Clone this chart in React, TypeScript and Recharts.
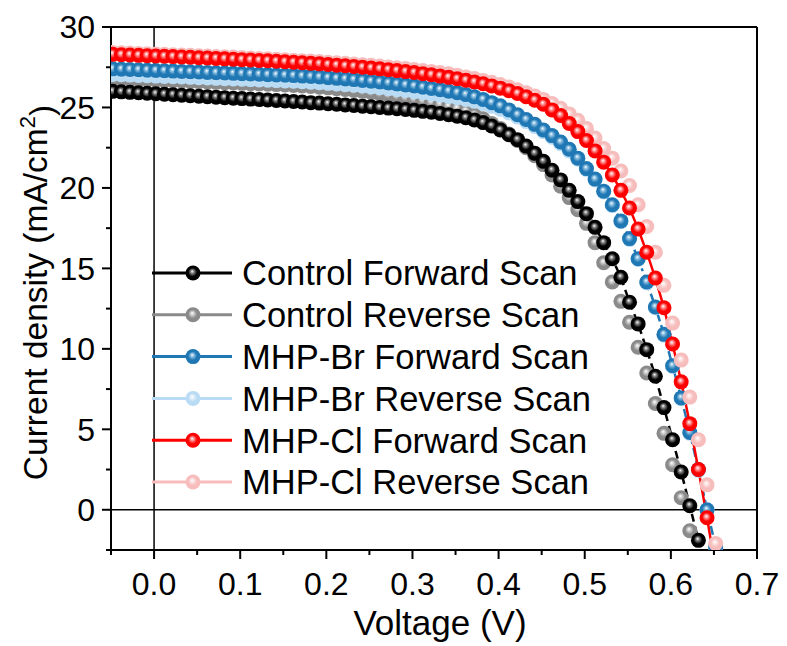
import React from 'react'
import { ComposedChart, Line, XAxis, YAxis, ReferenceLine, Legend, Label } from 'recharts'

// voltage sweep points (V)
const VOLTAGE = [
  -0.048, -0.038, -0.028, -0.018, -0.008, 0.002, 0.012, 0.022, 0.032, 0.042,
  0.052, 0.062, 0.072, 0.082, 0.092, 0.102, 0.112, 0.122, 0.132, 0.142,
  0.152, 0.162, 0.172, 0.182, 0.192, 0.202, 0.212, 0.222, 0.232, 0.242,
  0.252, 0.262, 0.272, 0.282, 0.292, 0.302, 0.312, 0.322, 0.332, 0.342,
  0.352, 0.362, 0.372, 0.382, 0.392, 0.402, 0.412, 0.422, 0.432, 0.442,
  0.452, 0.462, 0.472, 0.482, 0.492, 0.502, 0.512, 0.522, 0.532, 0.542,
  0.552, 0.562, 0.572, 0.582, 0.592, 0.602, 0.612, 0.622, 0.632, 0.642,
  0.652,
]

// current density (mA/cm2), one value per voltage point
const CONTROL_FWD = [
  26.0, 25.97, 25.94, 25.91, 25.88, 25.85, 25.82, 25.79, 25.76, 25.73,
  25.7, 25.67, 25.64, 25.61, 25.58, 25.55, 25.52, 25.49, 25.46, 25.43,
  25.4, 25.37, 25.34, 25.3, 25.27, 25.23, 25.2, 25.16, 25.12, 25.08,
  25.04, 25.0, 24.96, 24.92, 24.87, 24.82, 24.76, 24.7, 24.63, 24.55,
  24.46, 24.36, 24.22, 24.06, 23.85, 23.6, 23.3, 23.0, 22.6, 22.15,
  21.65, 21.1, 20.5, 19.85, 19.15, 18.4, 17.55, 16.6, 15.6, 14.45,
  12.9, 11.55, 9.95, 8.3, 6.35, 4.35, 2.35, 0.25, -1.9,
]

const CONTROL_REV = [
  26.8, 26.78, 26.76, 26.74, 26.72, 26.7, 26.68, 26.66, 26.64, 26.62,
  26.6, 26.58, 26.56, 26.54, 26.52, 26.5, 26.48, 26.46, 26.44, 26.42,
  26.4, 26.37, 26.34, 26.3, 26.26, 26.22, 26.17, 26.12, 26.06, 26.0,
  25.93, 25.86, 25.78, 25.7, 25.61, 25.52, 25.42, 25.32, 25.2, 25.08,
  24.95, 24.78, 24.55, 24.3, 24.0, 23.7, 23.35, 22.95, 22.5, 22.0,
  21.45, 20.8, 20.1, 19.4, 18.65, 17.8, 16.6, 15.35, 14.15, 12.95,
  11.65, 10.1, 8.5, 6.6, 4.75, 2.8, 0.75, -1.3,
]

const BR_FWD = [
  27.4, 27.38, 27.36, 27.34, 27.32, 27.3, 27.28, 27.26, 27.24, 27.22,
  27.2, 27.18, 27.16, 27.14, 27.12, 27.1, 27.08, 27.06, 27.04, 27.02,
  27.0, 26.98, 26.95, 26.92, 26.89, 26.85, 26.81, 26.77, 26.73, 26.68,
  26.63, 26.58, 26.52, 26.46, 26.4, 26.33, 26.26, 26.18, 26.1, 26.01,
  25.92, 25.8, 25.66, 25.5, 25.3, 25.1, 24.85, 24.55, 24.25, 23.95,
  23.6, 23.25, 22.85, 22.4, 21.85, 21.2, 20.55, 19.8, 18.95, 17.95,
  16.85, 15.6, 14.15, 12.6, 10.9, 8.95, 6.95, 4.8, 2.5, 0.0,
  -2.3,
]

const BR_REV = [
  27.05, 27.03, 27.01, 26.99, 26.97, 26.95, 26.93, 26.91, 26.89, 26.87,
  26.85, 26.83, 26.81, 26.79, 26.77, 26.75, 26.73, 26.71, 26.69, 26.67,
  26.65, 26.63, 26.6, 26.57, 26.54, 26.5, 26.46, 26.42, 26.38, 26.33,
  26.28, 26.23, 26.17, 26.11, 26.05, 25.98, 25.91, 25.84, 25.76, 25.68,
  25.6, 25.5, 25.38, 25.24, 25.07, 24.89, 24.66, 24.4, 24.12, 23.82,
  23.5, 23.15, 22.75, 22.3, 21.78, 21.15, 20.5, 19.75, 18.9, 17.9,
  16.8, 15.55, 14.1, 12.55, 10.85, 8.9, 6.9, 4.75, 2.45, -0.05,
  -2.35,
]

const CL_FWD = [
  28.3, 28.28, 28.26, 28.24, 28.22, 28.2, 28.18, 28.16, 28.14, 28.12,
  28.09, 28.07, 28.05, 28.02, 28.0, 27.97, 27.95, 27.92, 27.9, 27.87,
  27.84, 27.81, 27.78, 27.74, 27.71, 27.67, 27.63, 27.59, 27.55, 27.5,
  27.45, 27.4, 27.35, 27.29, 27.23, 27.17, 27.1, 27.03, 26.95, 26.87,
  26.78, 26.69, 26.58, 26.47, 26.34, 26.2, 26.04, 25.87, 25.67, 25.45,
  25.2, 24.85, 24.5, 24.0, 23.5, 22.95, 22.3, 21.6, 20.8, 19.85,
  18.75, 17.45, 16.0, 14.4, 12.55, 10.3, 7.95, 5.35, 2.5, -0.5,
  -3.7,
]

const CL_REV = [
  28.42, 28.4, 28.38, 28.36, 28.34, 28.32, 28.3, 28.28, 28.26, 28.24,
  28.22, 28.2, 28.17, 28.15, 28.13, 28.1, 28.08, 28.05, 28.03, 28.0,
  27.97, 27.94, 27.91, 27.88, 27.85, 27.81, 27.78, 27.74, 27.7, 27.66,
  27.62, 27.57, 27.52, 27.47, 27.42, 27.36, 27.3, 27.24, 27.17, 27.1,
  27.0, 26.9, 26.8, 26.68, 26.56, 26.42, 26.27, 26.1, 25.92, 25.72,
  25.5, 25.25, 24.95, 24.6, 24.2, 23.7, 23.1, 22.45, 21.85, 21.05,
  20.15, 18.95, 17.6, 16.0, 13.95, 11.6, 9.3, 7.0, 4.35, 1.55,
  -2.1,
]

const X_TICKS = [-0.05, 0, 0.05, 0.1, 0.15, 0.2, 0.25, 0.3, 0.35, 0.4, 0.45, 0.5, 0.55, 0.6, 0.65, 0.7]
const Y_TICKS = [-2.5, 0, 2.5, 5, 7.5, 10, 12.5, 15, 17.5, 20, 22.5, 25, 27.5, 30]

const FONT = '"Liberation Sans", Arial, Helvetica, sans-serif'

type Series = {
  id: string
  name: string
  values: number[]
  base: string
  light: string
  line: string
  dash?: string
}

const SERIES: Series[] = [
  { id: 'cf', name: 'Control Forward Scan', values: CONTROL_FWD, base: '#000000', light: '#8a8a8a', line: '#000000', dash: '8 5' },
  { id: 'cr', name: 'Control Reverse Scan', values: CONTROL_REV, base: '#8a8a8a', light: '#d2d2d2', line: 'none' },
  { id: 'bf', name: 'MHP-Br Forward Scan', values: BR_FWD, base: '#1f77b4', light: '#8fc1e2', line: '#1f77b4', dash: '9 4 3 4' },
  { id: 'br', name: 'MHP-Br Reverse Scan', values: BR_REV, base: '#b9dbf3', light: '#e6f2fb', line: 'none' },
  { id: 'rf', name: 'MHP-Cl Forward Scan', values: CL_FWD, base: '#ff0000', light: '#ff9c9c', line: '#ff0000' },
  { id: 'rr', name: 'MHP-Cl Reverse Scan', values: CL_REV, base: '#f7bcbc', light: '#fce4e4', line: 'none' },
]

// back-to-front drawing order
const DRAW_ORDER = ['cr', 'cf', 'br', 'bf', 'rr', 'rf']

const isMajor = (v: number, step: number) => Math.abs(v / step - Math.round(v / step)) < 1e-6

function XTick(props: any) {
  const { x, y, payload } = props
  const v = payload.value
  const major = isMajor(v, 0.1)
  return (
    <g>
      <line x1={x} y1={y} x2={x} y2={y + (major ? 9 : 5)} stroke="#000" strokeWidth={2} />
      {major && (
        <text x={x} y={y + 45} textAnchor="middle" fontSize={32} fontFamily={FONT} fill="#000">
          {v.toFixed(1)}
        </text>
      )}
    </g>
  )
}

function YTick(props: any) {
  const { x, y, payload } = props
  const v = payload.value
  const major = isMajor(v, 5)
  return (
    <g>
      <line x1={x - (major ? 9 : 5)} y1={y} x2={x} y2={y} stroke="#000" strokeWidth={2} />
      {major && (
        <text x={x - 16} y={y} dy="0.35em" textAnchor="end" fontSize={32} fontFamily={FONT} fill="#000">
          {v}
        </text>
      )}
    </g>
  )
}

function XTitle(props: any) {
  const { viewBox } = props
  return (
    <text x={viewBox.x + viewBox.width / 2 + 6} y={635} textAnchor="middle" fontSize={35} fontFamily={FONT} fill="#000">
      Voltage (V)
    </text>
  )
}

function YTitle(props: any) {
  const { viewBox } = props
  const cx = 35
  const cy = viewBox.y + viewBox.height / 2 + 4
  return (
    <text
      x={cx}
      y={cy}
      dy="0.35em"
      transform={`rotate(-90, ${cx}, ${cy})`}
      textAnchor="middle"
      fontSize={33.5}
      fontFamily={FONT}
      fill="#000"
    >
      Current density (mA/cm
      <tspan fontSize={22} dy="-0.55em">2</tspan>
      <tspan dy="0.55em">)</tspan>
    </text>
  )
}

function makeDot(id: string) {
  return (props: any) => {
    const { cx, cy, index } = props
    if (cx == null || cy == null) return <g key={index} />
    return <circle key={index} cx={cx} cy={cy} r={7.5} fill={`url(#ball-${id})`} />
  }
}

function LegendBox() {
  const rowGap = 41.8
  return (
    <svg width={480} height={260}>
      {SERIES.map((s, i) => {
        const y = 23 + i * rowGap
        return (
          <g key={s.id}>
            <line x1={7} y1={y} x2={87} y2={y} stroke={s.base} strokeWidth={3} />
            <circle cx={48} cy={y} r={7.5} fill={`url(#ball-${s.id})`} />
            <text x={97} y={y} dy="0.36em" fontSize={34.5} fontFamily={FONT} fill="#000">
              {s.name}
            </text>
          </g>
        )
      })}
    </svg>
  )
}

export default function App() {
  const ordered = DRAW_ORDER.map((id) => SERIES.find((s) => s.id === id)!)
  return (
    <div style={{ position: 'absolute', left: 0, top: 0, background: '#fff' }}>
      <ComposedChart width={787} height={646} margin={{ top: 27, right: 30, bottom: 36, left: 40 }}>
        <defs>
          {SERIES.map((s) => (
            <radialGradient key={s.id} id={`ball-${s.id}`} cx="50%" cy="50%" r="50%" fx="44%" fy="38%">
              <stop offset="0%" stopColor="#ffffff" />
              <stop offset="22%" stopColor={s.light} />
              <stop offset="58%" stopColor={s.base} />
              <stop offset="100%" stopColor={s.base} />
            </radialGradient>
          ))}
        </defs>
        <XAxis
          dataKey="v"
          type="number"
          domain={[-0.05, 0.7]}
          ticks={X_TICKS}
          interval={0}
          allowDataOverflow
          height={60}
          tickSize={0}
          tickMargin={0}
          tick={<XTick />}
          axisLine={{ stroke: '#000', strokeWidth: 2 }}
        >
          <Label content={<XTitle />} />
        </XAxis>
        <YAxis
          type="number"
          domain={[-2.5, 30]}
          ticks={Y_TICKS}
          interval={0}
          allowDataOverflow
          width={71}
          tickSize={0}
          tickMargin={0}
          tick={<YTick />}
          axisLine={{ stroke: '#000', strokeWidth: 2 }}
        >
          <Label content={<YTitle />} />
        </YAxis>
        <ReferenceLine x={0} stroke="#000" strokeWidth={1.5} />
        <ReferenceLine y={0} stroke="#000" strokeWidth={1.5} />
        <ReferenceLine y={30} stroke="#000" strokeWidth={2} />
        <ReferenceLine x={0.7} stroke="#000" strokeWidth={2} />
        {ordered.map((s) => (
          <Line
            key={s.id}
            name={s.name}
            data={s.values.map((j, i) => ({ v: VOLTAGE[i], j }))}
            dataKey="j"
            type="linear"
            stroke={s.line}
            strokeWidth={2.5}
            strokeDasharray={s.dash}
            dot={makeDot(s.id)}
            activeDot={false}
            isAnimationActive={false}
          />
        ))}
        <Legend
          layout="vertical"
          align="center"
          verticalAlign="middle"
          wrapperStyle={{ left: 145, top: 250, width: 480, height: 260 }}
          content={() => <LegendBox />}
        />
      </ComposedChart>
    </div>
  )
}
